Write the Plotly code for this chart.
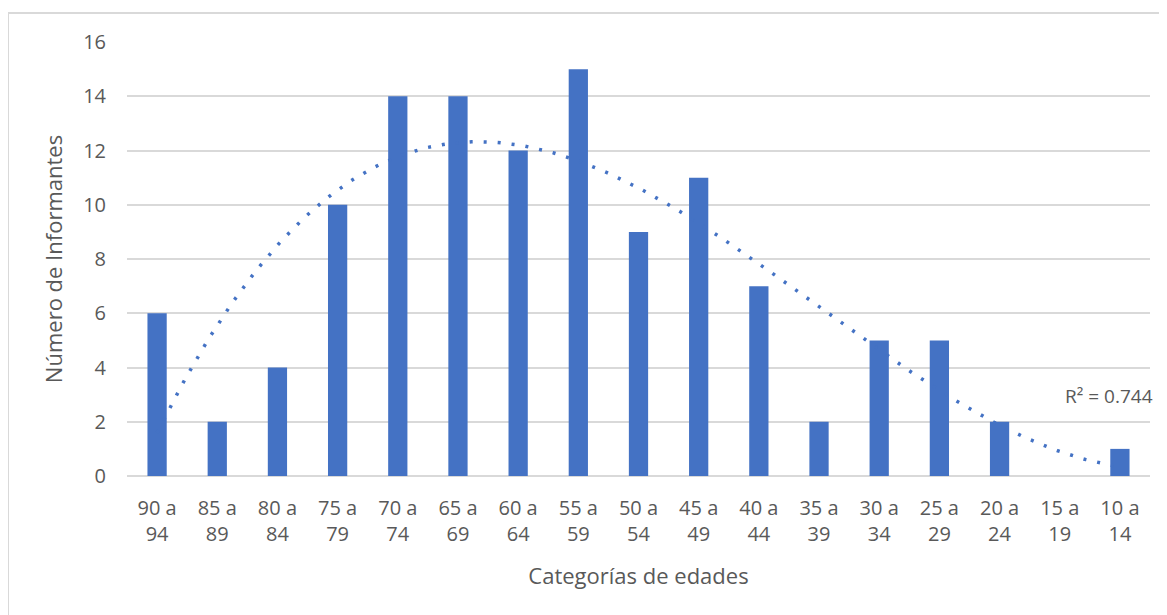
import numpy as np
import plotly.graph_objects as go

categories = ["90 a<br>94", "85 a<br>89", "80 a<br>84", "75 a<br>79", "70 a<br>74", "65 a<br>69",
              "60 a<br>64", "55 a<br>59", "50 a<br>54", "45 a<br>49", "40 a<br>44", "35 a<br>39",
              "30 a<br>34", "25 a<br>29", "20 a<br>24", "15 a<br>19", "10 a<br>14"]
values = [6, 2, 4, 10, 14, 14, 12, 15, 9, 11, 7, 2, 5, 5, 2, 0, 1]
y_ticks = [0, 2, 4, 6, 8, 10, 12, 14, 16]
r2_label = "R² = 0.744"

BLUE = "#4472C4"
GREY = "#595959"
FONT = "Open Sans"

# polynomial trendline (Excel-style, x = 1..n), degree chosen to match reported R²
n = len(values)
xi = np.arange(1, n + 1)
yv = np.array(values, dtype=float)
best = None
for deg in range(2, 7):
    c = np.polyfit(xi, yv, deg)
    fit = np.polyval(c, xi)
    r2 = 1 - np.sum((yv - fit) ** 2) / np.sum((yv - yv.mean()) ** 2)
    if best is None or abs(r2 - 0.744) < abs(best[0] - 0.744):
        best = (r2, c)
coef = best[1]
xs = np.linspace(1, n, 200)
ys = np.polyval(coef, xs)

W, H = 1159, 607
L, T, R, B = 119, 34, 17, 139
PW, PH = W - L - R, H - T - B

fig = go.Figure()
fig.add_trace(go.Bar(x=list(xi), y=values, marker=dict(color=BLUE, line=dict(width=0)),
                     hoverinfo="y"))
fig.add_trace(go.Scatter(x=xs, y=ys, mode="lines",
                         line=dict(color=BLUE, width=3.5, dash="3px,11px"),
                         hoverinfo="skip"))

fig.update_layout(
    width=W, height=H,
    margin=dict(l=L, r=R, t=T, b=B),
    paper_bgcolor="white", plot_bgcolor="white",
    showlegend=False,
    bargap=0.68,
    font=dict(family=FONT, color=GREY, size=20),
    xaxis=dict(
        tickmode="array", tickvals=list(xi), ticktext=categories,
        range=[0.5, n + 0.5], showgrid=False, zeroline=False, showline=False,
        ticks="", ticklen=0, tickfont=dict(size=20, color=GREY),
        ticklabelstandoff=18,
        title=dict(text="Categorías de edades", font=dict(size=22, color=GREY), standoff=22),
    ),
    yaxis=dict(
        range=[0, 16], tickmode="array", tickvals=y_ticks,
        showgrid=True, gridcolor="#D9D9D9", gridwidth=1.5,
        zeroline=True, zerolinecolor="#D9D9D9", zerolinewidth=1.5,
        showline=False, ticks="", tickfont=dict(size=20, color=GREY),
        ticklabelstandoff=20,
        title=dict(text="Número de Informantes", font=dict(size=22, color=GREY), standoff=14),
    ),
    annotations=[dict(
        text=r2_label, xref="paper", yref="paper", x=(1155 - 8 - L) / PW, y=(468 - 388) / PH,
        xanchor="right", yanchor="middle", showarrow=False,
        font=dict(size=19, color=GREY, family=FONT),
    )],
    shapes=[dict(
        type="rect", xref="paper", yref="paper",
        x0=(0 - L) / PW, x1=1.05, y0=-0.4, y1=(468 - 5) / PH,
        line=dict(color="#D9D9D9", width=2), fillcolor="rgba(0,0,0,0)", layer="below",
    )],
)

fig.write_html("out.html")
